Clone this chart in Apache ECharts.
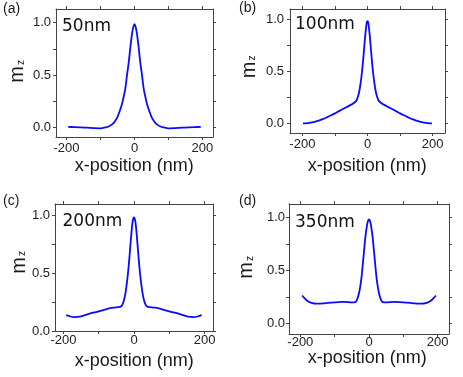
<!DOCTYPE html>
<html><head><meta charset="utf-8">
<script src="https://cdn.jsdelivr.net/npm/echarts@6/dist/echarts.min.js"></script>
<style>html,body{margin:0;padding:0;background:#fff;}#c{width:463px;height:377px;}</style>
</head><body><div id="c"></div>
<script>
// ---- data ----
var xA = [-195,-180,-160,-140,-120,-105,-95,-85,-75,-65,-57,-50,-43,-37,-32,-27,-22,-17,-12,-7,-3,0,3,7,12,17,22,27,32,37,43,50,57,65,75,85,95,105,120,140,160,180,195];
var yA = [0.003,0.002,0.0,-0.004,-0.008,-0.01,-0.008,-0.002,0.01,0.03,0.06,0.1,0.16,0.22,0.29,0.37,0.5,0.62,0.77,0.9,0.965,0.985,0.965,0.9,0.77,0.62,0.5,0.37,0.29,0.22,0.16,0.1,0.06,0.03,0.01,-0.002,-0.008,-0.01,-0.008,-0.004,0.0,0.002,0.003];

var xB = [-198,-185,-170,-155,-140,-125,-110,-95,-80,-65,-50,-40,-34,-29,-25,-21,-17,-13,-9,-5,-2,0,2,5,9,13,17,21,25,29,34,40,50,65,80,95,110,125,140,155,170,185,198];
var yB = [0.0,0.002,0.01,0.022,0.038,0.058,0.08,0.105,0.13,0.155,0.18,0.2,0.22,0.26,0.31,0.39,0.49,0.62,0.77,0.9,0.97,0.98,0.97,0.9,0.77,0.62,0.49,0.39,0.31,0.26,0.22,0.2,0.18,0.155,0.13,0.105,0.08,0.058,0.038,0.022,0.01,0.002,0.0];

var xC = [-192,-180,-170,-160,-145,-130,-115,-100,-85,-70,-55,-45,-38,-33,-28,-24,-20,-16,-12,-8,-4,0,4,8,12,16,20,24,28,33,38,45,55,70,85,100,115,130,145,160,170,180,192];
var yC = [0.137,0.125,0.12,0.121,0.13,0.145,0.158,0.17,0.182,0.195,0.202,0.205,0.21,0.225,0.27,0.33,0.42,0.53,0.67,0.82,0.94,0.98,0.94,0.82,0.67,0.53,0.42,0.33,0.27,0.225,0.21,0.205,0.202,0.195,0.182,0.17,0.158,0.145,0.13,0.121,0.12,0.125,0.137];

var xD = [-195,-188,-180,-170,-160,-145,-130,-110,-90,-75,-60,-48,-40,-35,-30,-26,-22,-18,-14,-10,-6,-3,0,3,6,10,14,18,22,26,30,35,40,48,60,75,90,110,130,145,160,170,180,188,195];
var yD = [0.265,0.24,0.215,0.198,0.19,0.188,0.192,0.198,0.203,0.205,0.203,0.2,0.203,0.225,0.275,0.34,0.43,0.56,0.7,0.83,0.92,0.965,0.98,0.965,0.92,0.83,0.7,0.56,0.43,0.34,0.275,0.225,0.203,0.2,0.203,0.205,0.203,0.198,0.192,0.188,0.19,0.198,0.215,0.24,0.265];

var xTicks = [-200,-100,0,100,200];
var xTickLabels = [-200,0,200];
var yTicks = [0,0.25,0.5,0.75,1.0];
var yTickLabels = [0,0.5,1.0];
var panelLetters = ['(a)','(b)','(c)','(d)'];
var panelTitles = ['50nm','100nm','200nm','350nm'];
var xName = 'x-position (nm)';

// ---- layout ----
var panels = [
  {xs:xA, ys:yA, left:56, top:9, width:157, height:128, xmin:-231, xmax:231, ymin:-0.093, ymax:1.131, xm:5, ym:5,
   letter:[3,9], title:[62,27], m:[17.5,74.5], xn:[134.3,166]},
  {xs:xB, ys:yB, left:290, top:9, width:155, height:124, xmin:-238, xmax:238, ymin:-0.092, ymax:1.096, xm:5, ym:6,
   letter:[239,8.5], title:[295,25], m:[249,70], xn:[367.3,165.7]},
  {xs:xC, ys:yC, left:55, top:204, width:158, height:127, xmin:-224, xmax:224, ymin:0, ymax:1.095, xm:3, ym:5,
   letter:[3,201], title:[62.5,221.5], m:[19,265.5], xn:[134.3,361]},
  {xs:xD, ys:yD, left:289, top:204, width:160, height:130, xmin:-233, xmax:233, ymin:-0.0965, ymax:1.125, xm:2, ym:4,
   letter:[239,201.5], title:[295,222.5], m:[246.8,270.5], xn:[367.3,358]}
];

var LINE = '#444';
var FONT = '"Liberation Sans", Arial, sans-serif';
var grids=[], xAxes=[], yAxes=[], series=[], graphics=[];
function fmtX(v){ return (v<0?'-':'') + Math.abs(v); }
panels.forEach(function(p,i){
  grids.push({left:p.left, top:p.top, width:p.width, height:p.height, containLabel:false});
  var common = {type:'value', gridIndex:i, splitLine:{show:false},
    axisLine:{show:true, onZero:false, lineStyle:{color:LINE, width:1}}};
  xAxes.push(Object.assign({}, common, {position:'bottom', min:p.xmin, max:p.xmax,
    axisTick:{show:true, inside:false, length:3, customValues:xTicks, lineStyle:{color:LINE}},
    axisLabel:{show:true, customValues:xTickLabels, margin:p.xm, color:'#222', fontSize:13, fontFamily:FONT, formatter:fmtX}}));
  xAxes.push(Object.assign({}, common, {position:'top', min:p.xmin, max:p.xmax,
    axisTick:{show:true, inside:false, length:3, customValues:xTicks, lineStyle:{color:LINE}},
    axisLabel:{show:false}}));
  yAxes.push(Object.assign({}, common, {position:'left', min:p.ymin, max:p.ymax,
    axisTick:{show:true, inside:false, length:3, customValues:yTicks, lineStyle:{color:LINE}},
    axisLabel:{show:true, customValues:yTickLabels, margin:p.ym, color:'#222', fontSize:13, fontFamily:FONT, formatter:function(v){return v.toFixed(1);}}}));
  yAxes.push(Object.assign({}, common, {position:'right', min:p.ymin, max:p.ymax,
    axisTick:{show:true, inside:false, length:3, customValues:yTicks, lineStyle:{color:LINE}},
    axisLabel:{show:false}}));
  series.push({type:'line', xAxisIndex:i*2, yAxisIndex:i*2, showSymbol:false, smooth:0.35,
    data:p.xs.map(function(x,k){return [x,p.ys[k]];}),
    lineStyle:{color:'#0a0aff', width:1.8}, itemStyle:{color:'#0a0aff'}, animation:false});
  graphics.push({type:'text', x:p.letter[0], y:p.letter[1], style:{text:panelLetters[i], font:'14px '+FONT, fill:'#1a1a1a', textAlign:'left', textVerticalAlign:'middle', align:'left', verticalAlign:'middle'}});
  graphics.push({type:'text', x:p.title[0], y:p.title[1], style:{text:panelTitles[i], font:'17px "DejaVu Sans", sans-serif', fill:'#111', textAlign:'left', textVerticalAlign:'middle', align:'left', verticalAlign:'middle'}});
  graphics.push({type:'text', x:p.m[0], y:p.m[1], rotation:Math.PI/2, style:{text:'m', font:'20px '+FONT, fill:'#1a1a1a', textAlign:'center', textVerticalAlign:'middle', align:'center', verticalAlign:'middle'}});
  graphics.push({type:'text', x:p.m[0]+3.5, y:p.m[1]-12, rotation:Math.PI/2, style:{text:'z', font:'10px '+FONT, fill:'#1a1a1a', textAlign:'center', textVerticalAlign:'middle', align:'center', verticalAlign:'middle'}});
  graphics.push({type:'text', x:p.xn[0], y:p.xn[1], style:{text:xName, font:'18px '+FONT, fill:'#1a1a1a', textAlign:'center', textVerticalAlign:'middle', align:'center', verticalAlign:'middle'}});
});

var chart = echarts.init(document.getElementById('c'), null, {renderer:'canvas'});
chart.setOption({animation:false, backgroundColor:'#fff', grid:grids, xAxis:xAxes, yAxis:yAxes, series:series, graphic:graphics});
</script></body></html>
